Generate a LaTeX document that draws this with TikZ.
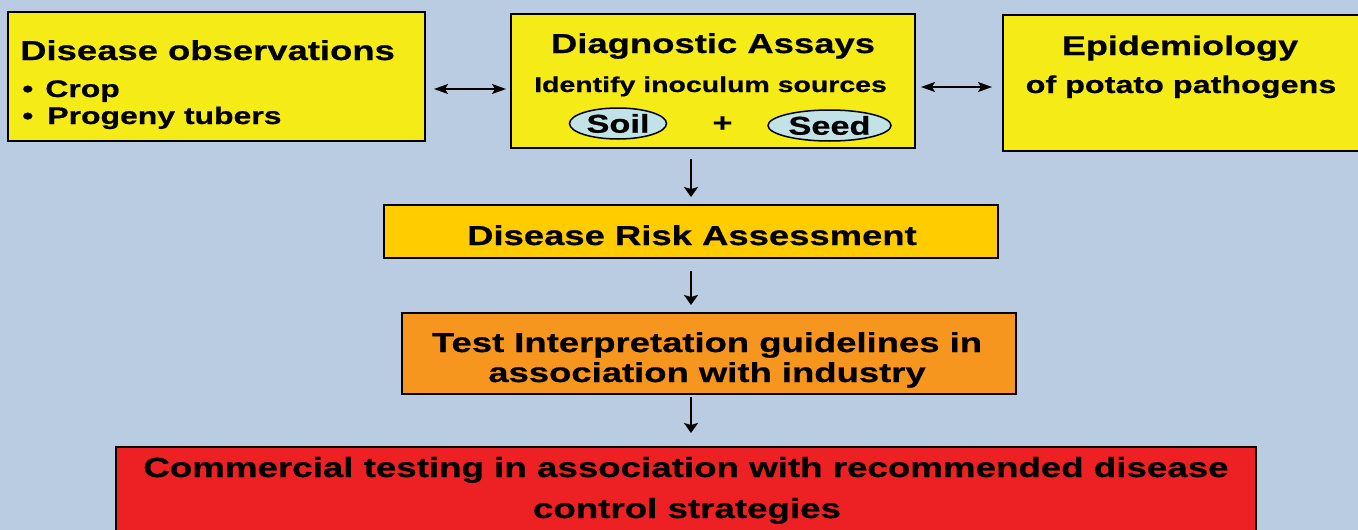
\documentclass[tikz,border=0pt]{standalone}
\usepackage{fontspec}
\usetikzlibrary{arrows.meta,shapes.geometric}
\newfontfamily\widefont[FakeStretch=1.33,FakeBold=0.6]{Liberation Sans}
\newcommand{\wf}[1]{\widefont\bfseries\fontsize{#1}{#1}\selectfont}
\definecolor{slate}{RGB}{186,204,226}
\definecolor{lemon}{RGB}{245,235,22}
\definecolor{gold}{RGB}{255,204,0}
\definecolor{tangerine}{RGB}{247,150,30}
\definecolor{scarlet}{RGB}{237,33,36}
\definecolor{frost}{RGB}{193,226,230}
\tikzset{box/.style={draw=black,line width=2pt,inner sep=0pt}}
\tikzset{bubble/.style={ellipse,draw=black,line width=1.5pt,fill=frost,inner sep=0pt,font=\wf{25.8}}}
\tikzset{txt/.style={anchor=base,inner sep=0pt}}
\tikzset{arr/.style={-{Stealth[length=10pt,width=14pt,inset=2pt]},line width=2pt}}
\tikzset{duo/.style={{Stealth[length=14pt,width=10pt,inset=3pt]}-{Stealth[length=14pt,width=10pt,inset=3pt]},line width=1.5pt}}

\begin{document}
\begin{tikzpicture}[x=1pt,y=-1pt]
	\fill[slate] (0,0) rectangle (1358,530);
	\clip (0,0) rectangle (1358,530);
	% boxes
	\node[box,fill=lemon,minimum width=417pt,minimum height=129pt] (obs) at (216.5,76.5) {};
	\node[box,fill=lemon,minimum width=404pt,minimum height=134pt] (diag) at (713,81) {};
	\node[box,fill=lemon,minimum width=372pt,minimum height=136pt] (epi) at (1189,83) {};
	\node[box,fill=gold,minimum width=614pt,minimum height=53pt] (risk) at (691,231.5) {};
	\node[box,fill=tangerine,minimum width=614pt,minimum height=81pt] (test) at (709,353.5) {};
	\node[box,fill=scarlet,minimum width=1140pt,minimum height=98pt] (comm) at (686,496) {};
	% texts
	\node[txt,anchor=base west,font=\wf{27.4}] (obstitle) at (20,60) {Disease observations};
	\node[txt,anchor=base west,font=\wf{24}] (crop) at (22,97) {\textbullet\hspace{12pt}Crop};
	\node[txt,anchor=base west,font=\wf{24}] (tubers) at (22,124) {\textbullet\hspace{14pt}Progeny tubers};
	\node[txt,font=\wf{27.4}] (diagtitle) at (713,53) {Diagnostic Assays};
	\node[txt,font=\wf{21.4}] (sources) at (710.5,92) {Identify inoculum sources};
	\node[bubble,minimum width=97pt,minimum height=31pt] (soil) at (618,123.5) {Soil};
	\node[inner sep=0pt,font=\wf{25.8}] (plus) at (722.5,124) {+};
	\node[bubble,minimum width=123pt,minimum height=31pt] (seed) at (829.5,125.5) {Seed};
	\node[txt,font=\wf{27.1}] (epititle) at (1180,55) {Epidemiology};
	\node[txt,font=\wf{24.3}] (pathogens) at (1181,93) {of potato pathogens};
	\node[txt,font=\wf{27.4}] (risktext) at (692,245) {Disease Risk Assessment};
	\node[txt,font=\wf{27.4}] (testone) at (707,352) {Test Interpretation guidelines in};
	\node[txt,font=\wf{27.4}] (testtwo) at (707,382) {association with industry};
	\node[txt,font=\wf{27.6}] (commone) at (686,477) {Commercial testing in association with recommended disease};
	\node[txt,font=\wf{27.6}] (commtwo) at (687,518) {control strategies};
	% connectors
	\coordinate (rowa) at (0,89);
	\coordinate (rowb) at (0,87);
	\draw[duo,shorten <=8pt,shorten >=4pt] (obs.east |- rowa) -- (diag.west |- rowa);
	\draw[duo,shorten <=5pt,shorten >=10pt] (diag.east |- rowb) -- (epi.west |- rowb);
	\draw[arr,shorten <=10pt,shorten >=7pt] (diag.south -| risk.north) -- (risk.north);
	\draw[arr,shorten <=12pt,shorten >=7pt] (risk.south) -- (risk.south |- test.north);
	\draw[arr,shorten <=2pt,shorten >=13pt] (test.south -| risk.south) -- (risk.south |- comm.north);
\end{tikzpicture}
\end{document}
